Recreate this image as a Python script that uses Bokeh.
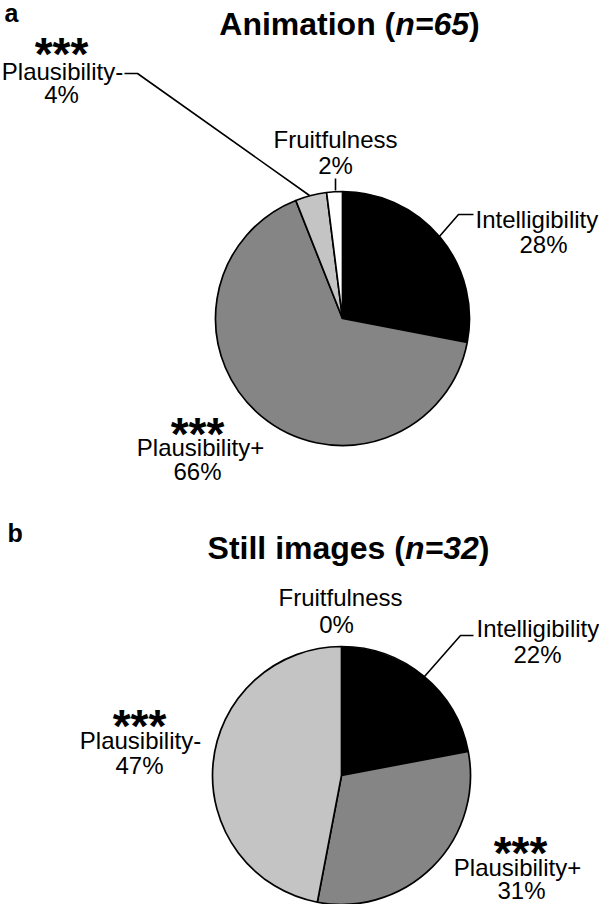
import math
from bokeh.plotting import figure
from bokeh.models import Range1d, ColumnDataSource
from bokeh.core.properties import value
from bokeh.embed import file_html
from bokeh.resources import INLINE

# ---- data ----
categories = ["Intelligibility", "Plausibility+", "Plausibility-", "Fruitfulness"]
animation_pct = [28, 66, 4, 2]
still_pct = [22, 31, 47, 0]
slice_colors = ["#000000", "#858585", "#c4c4c4", "#ffffff"]
titles = [("Animation (", "n=65", ")"), ("Still images (", "n=32", ")")]
panel_letters = ["a", "b"]

W, H = 599, 904
FONT = value("Liberation Sans")

p = figure(width=W, height=H, output_backend="svg", toolbar_location=None,
           x_range=Range1d(8, 8 + W), y_range=Range1d(8, 8 + H))
p.min_border = 0
p.min_border_left = p.min_border_right = p.min_border_top = p.min_border_bottom = 0
p.outline_line_color = None
p.axis.visible = False
p.grid.visible = False
p.background_fill_color = "white"
p.border_fill_color = "white"

def Y(ry):
    return 920 - ry

def draw_pie(cx, cy, r, pct):
    starts, ends, cols = [], [], []
    cum = 0.0
    for v, c in zip(pct, slice_colors):
        a0 = math.pi / 2 - 2 * math.pi * cum / 100.0
        cum += v
        a1 = math.pi / 2 - 2 * math.pi * cum / 100.0
        if v > 0:
            starts.append(a1); ends.append(a0); cols.append(c)
    src = ColumnDataSource(dict(x=[cx] * len(starts), y=[Y(cy)] * len(starts),
                                s=starts, e=ends, c=cols))
    p.wedge(x="x", y="y", radius=r, start_angle="s", end_angle="e",
            direction="anticlock", fill_color="c", line_color="black",
            line_width=1.7, source=src)

def txt(x, y, s, size, style="normal", align="center"):
    p.text(x=[x], y=[Y(y)], text=[s], text_font=FONT, text_font_size=f"{size}px",
           text_font_style=style, text_align=align, text_baseline="middle",
           text_color="black")

def stars(x, y, size=46):
    # asterisk glyph sits high in the em box; shift anchor down
    txt(x, y + 0.24 * size, "***", size, "bold")

def leader(xs, ys):
    p.line(x=xs, y=[Y(v) for v in ys], line_color="black", line_width=1.6)

def title(cx, cy, parts, size=32):
    a, b, c = parts
    em = {"A": .722, "n": .611, "i": .278, "m": .889, "a": .556, "t": .333, "o": .611,
          " ": .278, "(": .333, "S": .667, "l": .278, "g": .611, "e": .556, "s": .556}
    wa = sum(em.get(ch, .556) for ch in a) * size
    wb = (0.611 + 0.584 + 0.556 + 0.556) * size
    wc = 0.333 * size
    left = cx - (wa + wb + wc) / 2
    txt(left + wa, cy, a, size, "bold", "right")
    txt(left + wa, cy, b, size, "bold italic", "left")
    txt(left + wa + wb, cy, c, size, "bold", "left")

LS = 24

# ---- panel a ----
txt(12, 20, panel_letters[0], 25, "bold", "left")
title(357, 31, titles[0])
draw_pie(350, 326, 127, animation_pct)
stars(69, 50)
txt(70, 79, categories[2], LS)
txt(69, 102, f"{animation_pct[2]}%", LS)
leader([132, 145, 317], [81, 81, 203])
txt(343, 147, categories[3], LS)
txt(343, 173, f"{animation_pct[3]}%", LS)
leader([343, 343], [186, 198])
txt(483, 227, categories[0], LS, align="left")
txt(551, 252, f"{animation_pct[0]}%", LS)
leader([481, 466, 446], [222, 222, 245])
stars(205, 430)
txt(208, 455, categories[1], LS)
txt(205, 479, f"{animation_pct[1]}%", LS)

# ---- panel b ----
txt(15, 540, panel_letters[1], 25, "bold", "left")
title(356, 555, titles[1])
draw_pie(349, 783, 129, still_pct)
txt(348, 605, categories[3], LS)
txt(344, 632, f"{still_pct[3]}%", LS)
txt(484, 636, categories[0], LS, align="left")
txt(545, 662, f"{still_pct[0]}%", LS)
leader([481, 468, 432], [643, 643, 684])
stars(147, 722)
txt(148, 748, categories[2], LS)
txt(147, 773, f"{still_pct[2]}%", LS)
stars(528, 849)
txt(525, 875, categories[1], LS)
txt(529, 898, f"{still_pct[1]}%", LS)

open("out.html", "w").write(file_html(p, INLINE))
